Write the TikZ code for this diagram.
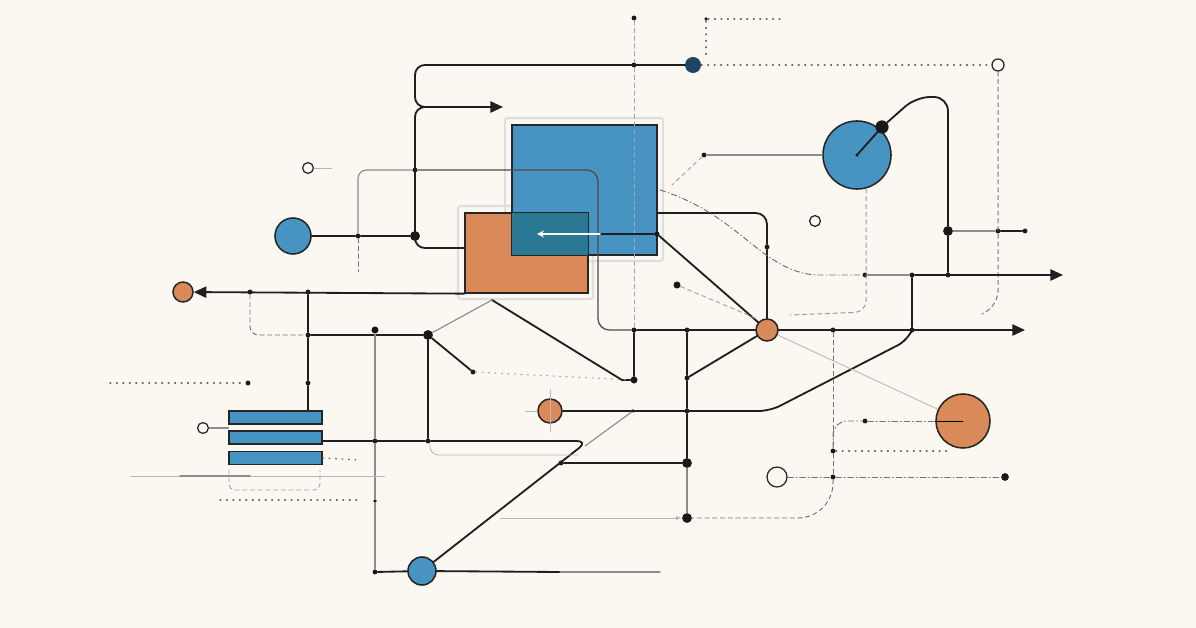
\documentclass[tikz,border=0pt]{standalone}
\usepackage{tikz}
\usetikzlibrary{arrows.meta, positioning}
\definecolor{paper}{HTML}{FBF8F2}
\definecolor{chipblue}{HTML}{4793C1}
\definecolor{chipteal}{HTML}{2B7895}
\definecolor{chiporange}{HTML}{DA8A59}
\definecolor{chipnavy}{HTML}{1E4561}
\tikzset{
    circuit/.style={x=0.025cm, y=-0.025cm, line cap=round},
    wire/.style={line width=1.3pt, black!88},
    mid wire/.style={line width=0.9pt, black!70},
    grey wire/.style={line width=0.8pt, black!45},
    faint wire/.style={line width=0.6pt, black!28},
    dash wire/.style={line width=0.7pt, black!55, dash pattern=on 3pt off 2.5pt},
    dot wire/.style={line width=0.9pt, black!60, dash pattern=on 0.6pt off 4pt},
    dashdot wire/.style={line width=0.7pt, black!55, dash pattern=on 4pt off 2pt on 0.6pt off 2pt},
    wire arrow/.style={wire, -{Triangle[length=9pt, width=8pt]}},
    jdot/.style={circle, fill=black!90, inner sep=0pt, minimum size=3.5pt},
    jbig/.style={circle, fill=black!90, inner sep=0pt, minimum size=7pt},
    hub/.style={circle, draw=black!85, line width=1.1pt, inner sep=0pt},
    bluehub/.style={hub, fill=chipblue},
    orangehub/.style={hub, fill=chiporange},
    ring/.style={circle, draw=black!85, line width=0.9pt, fill=paper, inner sep=0pt, minimum size=0.27cm},
    chip/.style={draw=black!85, line width=0.9pt, inner sep=0pt},
    bar/.style={chip, fill=chipblue, minimum width=2.325cm, minimum height=0.32cm},
    halo/.style={draw=black!13, line width=1.6pt},
}

\begin{document}
\begin{tikzpicture}[circuit]
    \fill[paper] (0,0) rectangle (1196,628);
    \useasboundingbox (0,0) rectangle (1196,628);

    % chips
    \draw[halo, rounded corners=2pt] (505,118) rectangle (663,261);
    \draw[halo, rounded corners=2pt] (458,206) rectangle (593,299);
    \node[chip, fill=chiporange, minimum width=3.075cm, minimum height=2cm] (osq) at (526.5,253) {};
    \node[chip, fill=chipblue, minimum width=3.625cm, minimum height=3.25cm] (bsq) at (584.5,190) {};
    \fill[chipteal] (bsq.west |- osq.north) rectangle (osq.east |- bsq.south);
    \draw[chip] (osq.north west) rectangle (osq.south east);
    \draw[chip] (bsq.north west) rectangle (bsq.south east);
    \node[bar] (bar1) at (275.5,417.5) {};
    \node[bar] (bar2) at (275.5,437.5) {};
    \node[bar] (bar3) at (275.5,458) {};

    % hubs, rings and junctions
    \node[jdot] (t1) at (634,18) {};
    \node[jdot, minimum size=2.5pt] (t2) at (706,19) {};
    \node[jdot] (t3) at (634,65) {};
    \node[circle, fill=chipnavy, inner sep=0pt, minimum size=0.4cm] (navy) at (693,65) {};
    \node[ring, minimum size=0.3cm] (ring1) at (998,65) {};
    \node[jdot] (j1) at (415,170) {};
    \node[jbig] (j2) at (415,236) {};
    \node[jdot] (j3) at (358,236) {};
    \node[bluehub, minimum size=0.9cm] (blue1) at (293,236) {};
    \node[ring] (ring2) at (308,168) {};
    \node[bluehub, minimum size=1.7cm] (blue2) at (857,155) {};
    \node[jdot, minimum size=2.5pt] (c2) at (857,155) {};
    \node[circle, fill=black!90, inner sep=0pt, minimum size=0.33cm] (p2) at (882,127) {};
    \node[jdot] (p1) at (704,155) {};
    \node[ring] (ring3) at (815,221) {};
    \node[jbig] (q1) at (948,231) {};
    \node[jdot] (q3) at (998,231) {};
    \node[jdot] (q4) at (1025,231) {};
    \node[jdot] (n2) at (865,275) {};
    \node[jdot] (n1) at (912,275) {};
    \node[jdot] (q2) at (948,275) {};
    \node[jdot] (bcor) at (657,234) {};
    \node[jdot] (v1) at (767,247) {};
    \node[orangehub, minimum size=0.55cm] (orange2) at (767,330) {};
    \node[jdot] (m1) at (634,330) {};
    \node[jdot] (m2) at (687,330) {};
    \node[jdot] (m3) at (833,330) {};
    \node[jdot] (m4) at (912,330) {};
    \node[jbig, minimum size=5pt] (m5) at (634,380) {};
    \node[jdot] (m6) at (687,378) {};
    \node[jdot] (m7) at (687,411) {};
    \node[jdot, minimum size=2.5pt] (m10) at (633,411) {};
    \node[jbig] (m8) at (687,463) {};
    \node[jbig] (m9) at (687,518) {};
    \node[orangehub, minimum size=0.6cm] (orange3) at (550,411) {};
    \node[orangehub, minimum size=1.35cm] (orange4) at (963,421) {};
    \node[jdot] (r1) at (833,451) {};
    \node[jdot] (r2) at (865,421) {};
    \node[jdot] (r3) at (833,477) {};
    \node[jbig, minimum size=5.5pt] (r4) at (1005,477) {};
    \node[ring, minimum size=0.5cm] (ring5) at (777,477) {};
    \node[orangehub, minimum size=0.5cm] (orange1) at (183,292) {};
    \node[jdot] (k5) at (250,292) {};
    \node[jdot] (k6) at (308,292) {};
    \node[jdot] (k4) at (308,335) {};
    \node[jbig] (k1) at (428,335) {};
    \node[jdot] (k2) at (473,372) {};
    \node[jdot] (k7) at (308,383) {};
    \node[jdot] (k8) at (248,383) {};
    \node[jdot] (k3) at (428,441) {};
    \node[jdot] (k10) at (375,441) {};
    \node[jdot, minimum size=2.5pt] (k11) at (375,501) {};
    \node[jdot] (k9) at (375,572) {};
    \node[jdot] (k12) at (561,463) {};
    \node[bluehub, minimum size=0.7cm] (blue3) at (422,571) {};
    \node[ring] (ring4) at (203,428) {};
    \node[jdot, minimum size=5pt] (pin1) at (375,330) {};
    \node[jdot, minimum size=5pt] (pin2) at (677,285) {};

    \coordinate (arwA) at (503,107);
    \coordinate (arwB) at (1063,275);
    \coordinate (arwC) at (1025,330);
    \coordinate (w1) at (465,248);
    \coordinate (s1) at (657,213);
    \coordinate (s2) at (492,300);
    \coordinate (s3) at (110,383);
    \coordinate (s4) at (660,572);
    \coordinate (s5) at (500,518);

    % top frame
    \draw[wire arrow, rounded corners=7pt] (navy) -| (415,107) -- (arwA);
    \draw[wire, rounded corners=7pt] (440,107) -| (415,248) -- (w1);
    \draw[wire] (blue1) -- (j3) -- (j2);
    \draw[grey wire, rounded corners=6pt] (j3) |- (j1);
    \draw[dash wire] (j3) -- (358,272);
    \draw[mid wire, rounded corners=8pt] (j1) -- (598,170) -- (598,330) -- (m1);
    \draw[faint wire] (ring2) -- (332,168);
    \draw[dot wire] (t2) -- (780,19);
    \draw[dot wire] (t2) -- (706,58);
    \draw[dash wire, black!35] (t1) -- (t3) -- (m1);
    \draw[dot wire] (navy) -- (ring1);
    \draw[dash wire, rounded corners=10pt] (ring1) -- (998,305) -- (982,314);

    % blue square outputs
    \draw[wire] (bcor) -- (600,234);
    \draw[white, line width=1.3pt, -{Stealth[length=5pt, width=5pt]}] (600,234) -- (537,234);
    \draw[wire] (bcor) -- (orange2);
    \draw[wire, rounded corners=8pt] (s1) -| (v1);
    \draw[wire] (v1) -- (orange2);
    \draw[dashdot wire] (660,190) .. controls (740,215) and (760,270) .. (815,275) -- (n2);
    \draw[dash wire, black!35] (pin2) -- (755,318);

    % main bus
    \draw[wire] (m1) -- (orange2);
    \draw[wire arrow] (orange2) -- (arwC);
    \draw[wire] (m1) -- (m5);
    \draw[wire] (s2) -- (622,380) -- (m5);
    \draw[grey wire] (k1) -- (s2);
    \draw[dot wire, black!35] (k2) -- (m5);
    \draw[wire] (m2) -- (m6) -- (m7) -- (m8);
    \draw[grey wire] (m8) -- (m9);
    \draw[wire] (orange2) -- (m6);
    \draw[wire, rounded corners=8pt] (orange3) -- (770,411) -- (908,340) -- (m4);
    \draw[wire] (m4) -- (n1);
    \draw[grey wire] (m10) -- (585,446);
    \draw[faint wire] (525,411) -- (orange3);
    \draw[faint wire] (550,390) -- (550,432);

    % right side
    \draw[grey wire] (p1) -- (blue2);
    \draw[dash wire, black!35] (p1) -- (672,185);
    \draw[wire, rounded corners=10pt] (c2) -- (p2) -- (916,97) -- (948,97) -- (q1);
    \draw[wire] (q1) -- (q2);
    \draw[grey wire] (q1) -- (q3);
    \draw[wire] (q3) -- (q4);
    \draw[grey wire] (n2) -- (n1);
    \draw[wire arrow] (n1) -- (arwB);
    \draw[dash wire, black!40, rounded corners=8pt] (866,189) -- (866,312) -- (790,315);
    \draw[faint wire] (orange2) -- (orange4);
    \draw[dash wire] (m3) -- (r1);
    \draw[dashdot wire, rounded corners=10pt] (r1) |- (r2);
    \draw[dashdot wire] (r2) -- (orange4);
    \draw[line width=0.5pt] (orange4.west) -- (orange4.center);
    \draw[dot wire] (r1) -- (950,451);
    \draw[dash wire] (r1) -- (r3);
    \draw[dash wire, rounded corners=25pt] (r3) |- (m9);
    \draw[dashdot wire] (ring5) -- (r3) -- (r4);
    \draw[faint wire, -{Latex[length=4pt]}] (s5) -- (m9);

    % left side
    \draw[wire arrow] (osq.south west) -- (orange1);
    \draw[dash wire, rounded corners=6pt] (k5) |- (k4);
    \draw[wire] (k6) -- (k4) -- (k7) -- (bar1.north -| k7);
    \draw[wire] (k4) -- (k1) -- (k3);
    \draw[wire] (k1) -- (k2);
    \draw[dot wire] (s3) -- (k8);
    \draw[grey wire] (pin1) -- (k10) -- (k11) -- (k9);
    \draw[wire, rounded corners=8pt] (bar2.east |- k10) -- (k3) -- (588,441) -- (blue3);
    \draw[faint wire, rounded corners=6pt] (430,444) |- (578,455);
    \draw[wire] (k12) -- (m8);
    \draw[wire] (k9) -- (blue3);
    \draw[wire] (blue3) -- (560,572);
    \draw[grey wire] (560,572) -- (s4);
    \draw[grey wire] (ring4) -- (bar1.west |- ring4);
    \draw[dot wire] (bar3.east) -- (360,460);
    \draw[faint wire] (130,476) -- (385,476);
    \draw[grey wire] (180,476) -- (250,476);
    \draw[dash wire, black!35, rounded corners=4pt] (229,470) |- (320,490) -- (320,470);
    \draw[dot wire] (220,500) -- (357,500);
\end{tikzpicture}
\end{document}
